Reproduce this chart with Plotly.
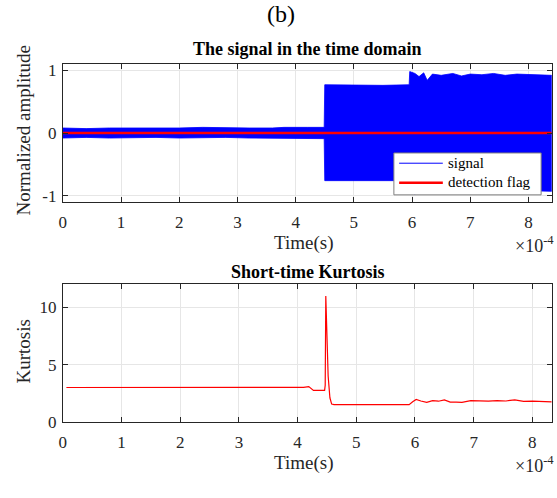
import plotly.graph_objects as go

# ---------------- data ----------------
SCALE = 1e-4  # time axis unit (x10^-4 s)

# envelope of the dense signal (time in units of 1e-4 s)
sig_t = [0.00, 0.40, 0.80, 1.20, 1.60, 2.00, 2.40, 2.80, 3.20, 3.60, 3.80, 4.20, 4.49,
         4.50, 5.00, 5.50, 5.95,
         5.96, 6.05, 6.12, 6.20, 6.26, 6.35, 6.50, 6.70, 6.85, 7.00, 7.20, 7.40, 7.60,
         7.80, 8.00, 8.20, 8.40]
sig_hi = [0.08, 0.07, 0.08, 0.08, 0.07, 0.08, 0.09, 0.08, 0.08, 0.08, 0.09, 0.09, 0.09,
          0.77, 0.76, 0.76, 0.77,
          0.98, 0.95, 0.90, 0.96, 0.84, 0.94, 0.92, 0.95, 0.91, 0.94, 0.93, 0.95, 0.92,
          0.94, 0.93, 0.92, 0.92]
sig_lo = [-0.08, -0.07, -0.08, -0.08, -0.07, -0.08, -0.08, -0.07, -0.08, -0.08, -0.09, -0.09, -0.09,
          -0.76, -0.75, -0.76, -0.76,
          -0.90, -0.98, -0.90, -0.90, -0.89, -0.90, -0.88, -0.89, -0.88, -0.89, -0.88, -0.89, -0.90,
          -0.91, -0.92, -0.93, -0.93]

flag_t = [0.0, 8.4]
flag_v = [0.0, 0.0]

kurt_t = [0.06, 0.5, 1.0, 1.5, 2.0, 2.4, 2.8, 3.0, 3.4, 3.8, 4.10, 4.19, 4.27, 4.46, 4.47,
          4.48, 4.50, 4.52, 4.55, 4.58, 4.62, 5.00, 5.50, 5.90, 5.96, 6.02, 6.10, 6.20,
          6.30, 6.40, 6.50, 6.60, 6.70, 6.80, 6.95, 7.10, 7.25, 7.40, 7.55, 7.70, 7.85,
          8.00, 8.15, 8.33]
kurt_v = [3.00, 3.00, 2.98, 3.00, 2.98, 2.97, 3.00, 2.97, 2.99, 3.00, 3.01, 3.08, 2.75, 2.75, 3.2,
          11.0, 7.50, 4.00, 2.10, 1.55, 1.50, 1.50, 1.50, 1.50, 1.75, 1.95, 1.82, 1.70,
          1.85, 1.80, 1.92, 1.72, 1.72, 1.70, 1.85, 1.82, 1.80, 1.85, 1.82, 1.92, 1.78,
          1.80, 1.75, 1.75]

x_ticks = [0, 1, 2, 3, 4, 5, 6, 7, 8]
sig_yticks = [-1, 0, 1]
kurt_yticks = [0, 5, 10]
legend_names = ["signal", "detection flag"]

# ---------------- figure ----------------
W, H = 557, 498
FONT = '"Liberation Serif", "Times New Roman", Times, serif'
AX_COL = "#262626"


def px_x(p):
    return p / W


def px_y(p):
    return 1 - p / H


fig = go.Figure()

# signal band (drawn as filled envelope)
band_x = [t * SCALE for t in sig_t] + [t * SCALE for t in reversed(sig_t)]
band_y = sig_hi + list(reversed(sig_lo))
fig.add_trace(go.Scatter(x=band_x, y=band_y, mode="lines", fill="toself",
                         fillcolor="#0000FF", line=dict(color="#0000FF", width=0.8),
                         name=legend_names[0], showlegend=False, hoverinfo="skip",
                         xaxis="x", yaxis="y"))
fig.add_trace(go.Scatter(x=[t * SCALE for t in flag_t], y=flag_v, mode="lines",
                         name=legend_names[1], line=dict(color="#FF0000", width=2.6),
                         showlegend=False, xaxis="x", yaxis="y"))

fig.add_trace(go.Scatter(x=[t * SCALE for t in kurt_t], y=kurt_v, mode="lines",
                         line=dict(color="#FF0000", width=1.2), showlegend=False,
                         xaxis="x2", yaxis="y2"))

x_dom = [px_x(59.3), px_x(551.7)]
axis_common = dict(showline=True, linecolor=AX_COL, linewidth=1, mirror="allticks",
                   ticks="inside", ticklen=5, tickcolor=AX_COL, showgrid=True,
                   gridcolor="#E6E6E6", gridwidth=1, zeroline=False,
                   tickfont=dict(family=FONT, size=17, color=AX_COL))

fig.update_layout(
    width=W, height=H, autosize=False,
    margin=dict(l=0, r=0, t=0, b=0),
    paper_bgcolor="white", plot_bgcolor="white",
    xaxis=dict(domain=x_dom, anchor="y", range=[0, 8.4 * SCALE],
               tickvals=[v * SCALE for v in x_ticks], ticktext=[str(v) for v in x_ticks],
               ticklabelstandoff=5, **axis_common),
    yaxis=dict(domain=[px_y(204.3), px_y(62.7)], anchor="x", range=[-1.1, 1.1],
               tickvals=sig_yticks, ticktext=[str(v) for v in sig_yticks],
               ticklabelstandoff=2, **axis_common),
    xaxis2=dict(domain=x_dom, anchor="y2", range=[0, 8.33 * SCALE],
                tickvals=[v * SCALE for v in x_ticks], ticktext=[str(v) for v in x_ticks],
                ticklabelstandoff=5, **axis_common),
    yaxis2=dict(domain=[px_y(430), px_y(288.3)], anchor="x2", range=[0, 12.08],
                tickvals=kurt_yticks, ticktext=[str(v) for v in kurt_yticks],
                ticklabelstandoff=2, **axis_common),
    showlegend=False,
)

# legend box (drawn to match the reference's compact MATLAB legend)
fig.add_shape(type="rect", xref="paper", yref="paper",
              x0=px_x(392.7), x1=px_x(541), y0=px_y(197), y1=px_y(154),
              fillcolor="white", line=dict(color="#7F7F7F", width=1), layer="above")
fig.add_shape(type="line", xref="paper", yref="paper",
              x0=px_x(398), x1=px_x(442), y0=px_y(164.5), y1=px_y(164.5),
              line=dict(color="#0000FF", width=1), layer="above")
fig.add_shape(type="line", xref="paper", yref="paper",
              x0=px_x(398), x1=px_x(442), y0=px_y(184.5), y1=px_y(184.5),
              line=dict(color="#FF0000", width=2.6), layer="above")

ann = [
    dict(text="(b)", x=0.5, y=px_y(11), font=dict(size=24, color="black")),
    dict(text="<b>The signal in the time domain</b>", x=px_x(305.5), y=px_y(47), font=dict(size=18, color="black")),
    dict(text="<b>Short-time Kurtosis</b>", x=px_x(305.5), y=px_y(276), font=dict(size=18, color="black")),
    dict(text="Time(s)", x=px_x(302), y=px_y(246), font=dict(size=19)),
    dict(text="Time(s)", x=px_x(302), y=px_y(472), font=dict(size=19)),
    dict(text="Normalized amplitude", x=px_x(20), y=px_y(131), textangle=-90, font=dict(size=19)),
    dict(text="Kurtosis", x=px_x(20), y=px_y(358), textangle=-90, font=dict(size=19)),
    dict(text="\u00d710<sup>-4</sup>", x=px_x(556), y=px_y(248), xanchor="right", font=dict(size=18)),
    dict(text="\u00d710<sup>-4</sup>", x=px_x(556), y=px_y(474), xanchor="right", font=dict(size=18)),
    dict(text=legend_names[0], x=px_x(445), y=px_y(164), xanchor="left", font=dict(size=15, color="black")),
    dict(text=legend_names[1], x=px_x(445), y=px_y(184), xanchor="left", font=dict(size=15, color="black")),
]
for a in ann:
    f = dict(family=FONT, color=AX_COL)
    f.update(a.pop("font"))
    base = dict(xref="paper", yref="paper", showarrow=False, xanchor="center", yanchor="middle")
    base.update(a)
    fig.add_annotation(font=f, **base)

fig.write_html("out.html")
